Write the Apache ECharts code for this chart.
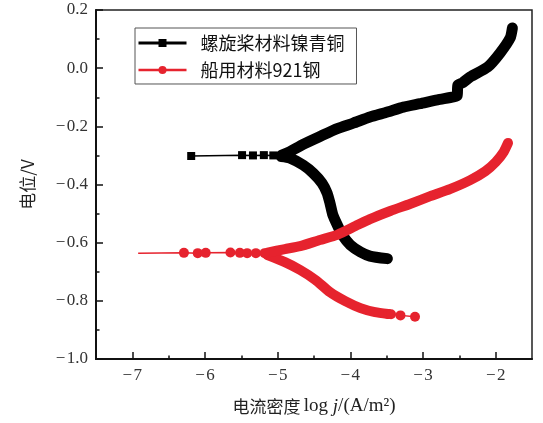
<!DOCTYPE html>
<html>
<head>
<meta charset="utf-8">
<script src="https://cdn.jsdelivr.net/npm/echarts@6/dist/echarts.min.js"></script>
<style>
  html, body { margin: 0; padding: 0; background: #fff; }
  #chart { width: 543px; height: 423px; }
</style>
</head>
<body>
<div id="chart"></div>
<script>
// Tafel polarization curves: potential (V) vs. log current density (A/m²)

const seriesNames = ['螺旋桨材料镍青铜', '船用材料921钢'];

// Nickel-aluminium bronze (propeller material)
const bronzeNearX = [-6.19, -5.49, -5.34, -5.19, -5.06, -4.95];
const bronzeNearY = [-0.302, -0.299, -0.300, -0.299, -0.300, -0.302];
const bronzeCathX = [-4.95, -4.83, -4.65, -4.51, -4.39, -4.32, -4.28, -4.24, -4.18, -4.11, -4.00, -3.86, -3.73, -3.49];
const bronzeCathY = [-0.304, -0.309, -0.333, -0.361, -0.395, -0.429, -0.464, -0.505, -0.539, -0.574, -0.608, -0.632, -0.646, -0.655];
const bronzeAnodX = [-4.95, -4.83, -4.65, -4.41, -4.18, -3.96, -3.73, -3.49, -3.27, -3.04, -2.80, -2.58, -2.53, -2.52, -2.46, -2.35, -2.11, -1.94, -1.80, -1.77];
const bronzeAnodY = [-0.300, -0.287, -0.262, -0.234, -0.208, -0.189, -0.168, -0.151, -0.134, -0.122, -0.109, -0.099, -0.094, -0.058, -0.051, -0.030, 0.004, 0.052, 0.104, 0.138];

// 921 hull steel
const steelNearX = [-6.92, -6.29, -6.10, -5.99, -5.65, -5.52, -5.42, -5.30, -5.18];
const steelNearY = [-0.636, -0.635, -0.636, -0.635, -0.634, -0.635, -0.636, -0.636, -0.636];
const steelCathX = [-5.14, -4.90, -4.69, -4.48, -4.28, -4.07, -3.86, -3.66, -3.48];
const steelCathY = [-0.643, -0.667, -0.694, -0.728, -0.770, -0.801, -0.825, -0.839, -0.845];
const steelTailX = [-3.48, -3.44, -3.31, -3.11];
const steelTailY = [-0.845, -0.846, -0.850, -0.855];
const steelAnodX = [-5.14, -4.90, -4.69, -4.42, -4.18, -3.93, -3.73, -3.45, -3.18, -2.90, -2.63, -2.35, -2.14, -2.00, -1.89, -1.83];
const steelAnodY = [-0.634, -0.622, -0.612, -0.591, -0.573, -0.543, -0.519, -0.491, -0.467, -0.440, -0.416, -0.385, -0.354, -0.323, -0.288, -0.257];

// Axis ticks
const xMajorTicks = [-7, -6, -5, -4, -3, -2];
const xMinorTicks = [-6.5, -5.5, -4.5, -3.5, -2.5];

const BLACK = '#000000';
const RED = '#e6232e';
const serif = 'Liberation Serif';
const cjk = 'Noto Sans CJK SC';

function pairs(xs, ys) { return xs.map((x, i) => [x, ys[i]]); }
function minus(s) { return s.replace('-', '\u2212\u200a'); }

const thickBranch = (name, color, width, xs, ys) => ({
  name, type: 'line', data: pairs(xs, ys), showSymbol: false, symbol: 'none',
  smooth: 0.2,
  lineStyle: { color, width, cap: 'round', join: 'round' },
  itemStyle: { color }, z: 3, silent: true
});

const steelNear = pairs(steelNearX, steelNearY).map((p, i) => i === 0 ? { value: p, symbol: 'none' } : p);

const option = {
  animation: false,
  backgroundColor: '#fff',
  grid: { left: 96, right: 11, top: 10, bottom: 64, show: true, borderColor: '#222', borderWidth: 1.5 },
  legend: {
    orient: 'vertical', left: 135, top: 28,
    backgroundColor: '#fff', borderColor: '#555', borderWidth: 1,
    padding: [6, 12, 5, 2], itemWidth: 48, itemHeight: 10, itemGap: 9,
    textStyle: { fontFamily: cjk, fontSize: 18, color: '#111', padding: [0, 0, 0, 9] },
    data: [
      { name: seriesNames[0], lineStyle: { width: 3, color: BLACK } },
      { name: seriesNames[1], lineStyle: { width: 2.5, color: RED } }
    ]
  },
  xAxis: [{
    type: 'value', min: -7.5, max: -1.5,
    axisLine: { onZero: false, lineStyle: { color: '#111', width: 2 } },
    axisTick: { inside: true, length: 7, customValues: xMajorTicks, lineStyle: { color: '#111', width: 1.5 } },
    axisLabel: { customValues: xMajorTicks, margin: 8, fontFamily: serif, fontSize: 17, color: '#333', formatter: v => minus(String(v)) },
    splitLine: { show: false },
    name: '{cn|电流密度} {lt|log }{it|j}{lt|/(A/m²)}',
    nameLocation: 'middle', nameGap: 38,
    nameTextStyle: {
      rich: {
        cn: { fontFamily: cjk, fontSize: 17, color: '#222' },
        lt: { fontFamily: serif, fontSize: 19, color: '#222' },
        it: { fontFamily: serif, fontSize: 19, fontStyle: 'italic', color: '#222' }
      }
    }
  }, {
    type: 'value', min: -7.5, max: -1.5, position: 'bottom',
    axisLine: { show: false, onZero: false },
    axisTick: { inside: true, length: 3.5, customValues: xMinorTicks, lineStyle: { color: '#111', width: 1.5 } },
    axisLabel: { show: false },
    splitLine: { show: false }
  }],
  yAxis: {
    type: 'value', min: -1.0, max: 0.2, interval: 0.2,
    axisLine: { show: true, onZero: false, lineStyle: { color: '#111', width: 2 } },
    axisTick: { inside: true, length: 7, lineStyle: { color: '#111', width: 1.5 } },
    minorTick: { show: true, splitNumber: 2, length: 3.5, lineStyle: { color: '#111', width: 1.5 } },
    axisLabel: { margin: 8, fontFamily: serif, fontSize: 17, color: '#333', formatter: v => minus(v.toFixed(1)) },
    splitLine: { show: false },
    name: '电位/V', nameLocation: 'middle', nameGap: 60, nameRotate: 90,
    nameTextStyle: { fontFamily: cjk, fontSize: 17, color: '#222' }
  },
  series: [
    {
      name: seriesNames[0], type: 'line', data: pairs(bronzeNearX, bronzeNearY),
      symbol: 'rect', symbolSize: 8, showSymbol: true,
      lineStyle: { color: BLACK, width: 1.5 }, itemStyle: { color: BLACK }, z: 4
    },
    thickBranch(seriesNames[0], BLACK, 11, bronzeCathX, bronzeCathY),
    thickBranch(seriesNames[0], BLACK, 11, bronzeAnodX, bronzeAnodY),
    {
      name: seriesNames[1], type: 'line', data: steelNear,
      symbol: 'circle', symbolSize: 10, showSymbol: true,
      lineStyle: { color: RED, width: 1.5 }, itemStyle: { color: RED }, z: 4
    },
    thickBranch(seriesNames[1], RED, 10, steelCathX, steelCathY),
    thickBranch(seriesNames[1], RED, 10, steelAnodX, steelAnodY),
    {
      name: seriesNames[1], type: 'line', data: pairs(steelTailX, steelTailY),
      symbol: 'circle', symbolSize: 10, showSymbol: true,
      lineStyle: { color: RED, width: 1.5 }, itemStyle: { color: RED }, z: 4
    }
  ]
};

const chart = echarts.init(document.getElementById('chart'), null, { renderer: 'canvas' });
chart.setOption(option);
</script>
</body>
</html>
